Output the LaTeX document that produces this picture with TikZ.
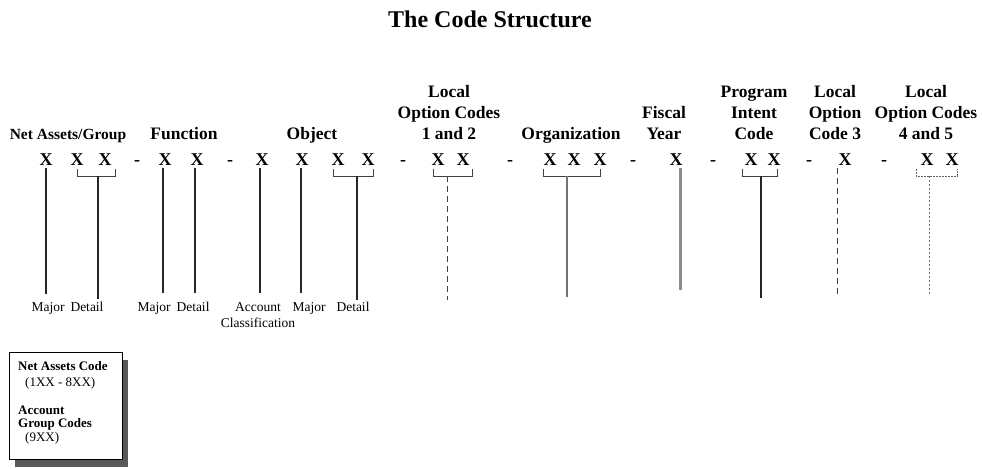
\documentclass[tikz,border=0pt]{standalone}
\usepackage{fontspec}
\setmainfont{Liberation Serif}
\usetikzlibrary{calc}
\begin{document}
\begin{tikzpicture}[x=1pt,y=-1pt,
  title/.style={inner sep=0pt, anchor=base, font=\fontsize{24}{28}\selectfont\bfseries},
  digit/.style={inner sep=0pt, anchor=base, font=\fontsize{18}{21}\selectfont\bfseries},
  head/.style={inner sep=0pt, anchor=south, align=center, text depth=0pt,
               font=\fontsize{17.5}{21}\selectfont\bfseries},
  smallhead/.style={head, font=\fontsize{15.5}{18}\selectfont\bfseries},
  sub/.style={inner sep=0pt, anchor=base, font=\fontsize{13.5}{16}\selectfont},
  boxtxt/.style={inner sep=0pt, anchor=base west, font=\fontsize{13}{15}\selectfont},
  lead/.style={line width=1.1pt, black!85},
  greylead/.style={line width=1.4pt, black!55},
  fatlead/.style={line width=3pt, black!45},
  dashlead/.style={line width=1pt, black!75, dash pattern=on 6pt off 4pt},
  dotlead/.style={line width=1pt, black!55, dash pattern=on 2pt off 2pt},
  brk/.style={line width=1pt, black!75},
  dotbrk/.style={line width=1pt, black!60, dash pattern=on 2pt off 1pt},
]
\useasboundingbox (0,0) rectangle (982,469);

% heading
\node[title] (ttl) at (490,27) {The Code Structure};

% field names
\node[smallhead] (hNet)  at (68,140)  {Net Assets/Group};
\node[head] (hFun)  at (184,140) {Function};
\node[head] (hObj)  at (312,140) {Object};
\node[head] (hL12)  at (449,140) {Local\\Option Codes\\1 and 2};
\node[head] (hOrg)  at (571,140) {Organization};
\node[head] (hFy)   at (664,140) {Fiscal\\Year};
\node[head] (hPic)  at (754,140) {Program\\Intent\\Code};
\node[head] (hL3)   at (835,140) {Local\\Option\\Code 3};
\node[head] (hL45)  at (926,140) {Local\\Option Codes\\4 and 5};

% code positions
\foreach \nm/\x in {n1/46,n2/77,n3/105,f1/165,f2/197,o1/262,o2/302,o3/338,o4/368,
                    l1/438,l2/463,g1/550,g2/574,g3/600,y1/676,p1/751,p2/774,
                    c1/845,m1/927,m2/952}
  \node[digit] (\nm) at (\x,165) {X};
\foreach \nm/\x in {s1/137,s2/230,s3/403,s4/510,s5/633,s6/713,s7/809,s8/884}
  \node[digit] (\nm) at (\x,165) {-};

% part labels
\node[sub] (lbMajA) at (48,311)  {Major};
\node[sub] (lbDetA) at (87,311)  {Detail};
\node[sub] (lbMajB) at (154,311) {Major};
\node[sub] (lbDetB) at (193,311) {Detail};
\node[sub] (lbAcc)  at (258,311) {Account};
\node[sub] (lbCls)  at (258,327) {Classification};
\node[sub] (lbMajC) at (309,311) {Major};
\node[sub] (lbDetC) at (353,311) {Detail};

% brackets under grouped positions
\draw[brk] (77,169) -- (77,176) -- (115,176) -- (115,169);
\draw[brk] (333,169) -- (333,176) -- (373,176) -- (373,169);
\draw[brk] (433,169) -- (433,176) -- (472,176) -- (472,169);
\draw[brk] (543,169) -- (543,176) -- (600,176) -- (600,169);
\draw[brk] (742,169) -- (742,176) -- (777,176) -- (777,169);
\draw[dotbrk] (916,169) -- (916,176) -- (957,176) -- (957,169);

% stem origins
\coordinate (bNet) at (98,176);
\coordinate (bObj) at (357,176);
\coordinate (bL12) at (447,176);
\coordinate (bOrg) at (567,176);
\coordinate (bPic) at (761,176);
\coordinate (bL45) at (929,176);
\coordinate (tFy)  at (680,168);
\coordinate (tL3)  at (837,168);

% stem ends
\coordinate (eL12) at (447,300);
\coordinate (eOrg) at (567,297);
\coordinate (eFy)  at (680,290);
\coordinate (ePic) at (761,298);
\coordinate (eL3)  at (837,296);
\coordinate (eL45) at (929,296);

% leaders to the part labels
\draw[lead] ([yshift=-3pt]n1.south) -- (n1.south |- 0,294);
\draw[lead] (bNet) -- (bNet |- 0,299);
\draw[lead] ([xshift=-2pt,yshift=-3pt]f1.south) -- ([xshift=-2pt]f1.south |- 0,293);
\draw[lead] ([xshift=-2pt,yshift=-3pt]f2.south) -- ([xshift=-2pt]f2.south |- 0,293);
\draw[lead] ([xshift=-2pt,yshift=-3pt]o1.south) -- ([xshift=-2pt]o1.south |- 0,293);
\draw[lead] ([xshift=-1pt,yshift=-3pt]o2.south) -- ([xshift=-1pt]o2.south |- 0,293);
\draw[lead] (bObj) -- (bObj |- 0,300);

% leaders without labels
\draw[dashlead] (bL12) -- (eL12);
\draw[greylead] (bOrg) -- (eOrg);
\draw[fatlead]  (tFy) -- (eFy);
\draw[lead]     (bPic) -- (ePic);
\draw[dashlead] (tL3) -- (eL3);
\draw[dotlead]  (bL45) -- (eL45);

% legend box with shadow
\fill[black!65] (15,360) rectangle (128,467);
\node[draw=black, line width=0.8pt, fill=white, minimum width=113pt, minimum height=107pt,
      inner sep=0pt, anchor=north west] (legend) at (9,352) {};
\node[boxtxt] (lgA) at (18,370) {\bfseries Net Assets Code};
\node[boxtxt] (lgB) at (25,386) {(1XX - 8XX)};
\node[boxtxt] (lgC) at (18,414) {\bfseries Account};
\node[boxtxt] (lgD) at (18,427) {\bfseries Group Codes};
\node[boxtxt] (lgE) at (25,441) {(9XX)};
\end{tikzpicture}
\end{document}
